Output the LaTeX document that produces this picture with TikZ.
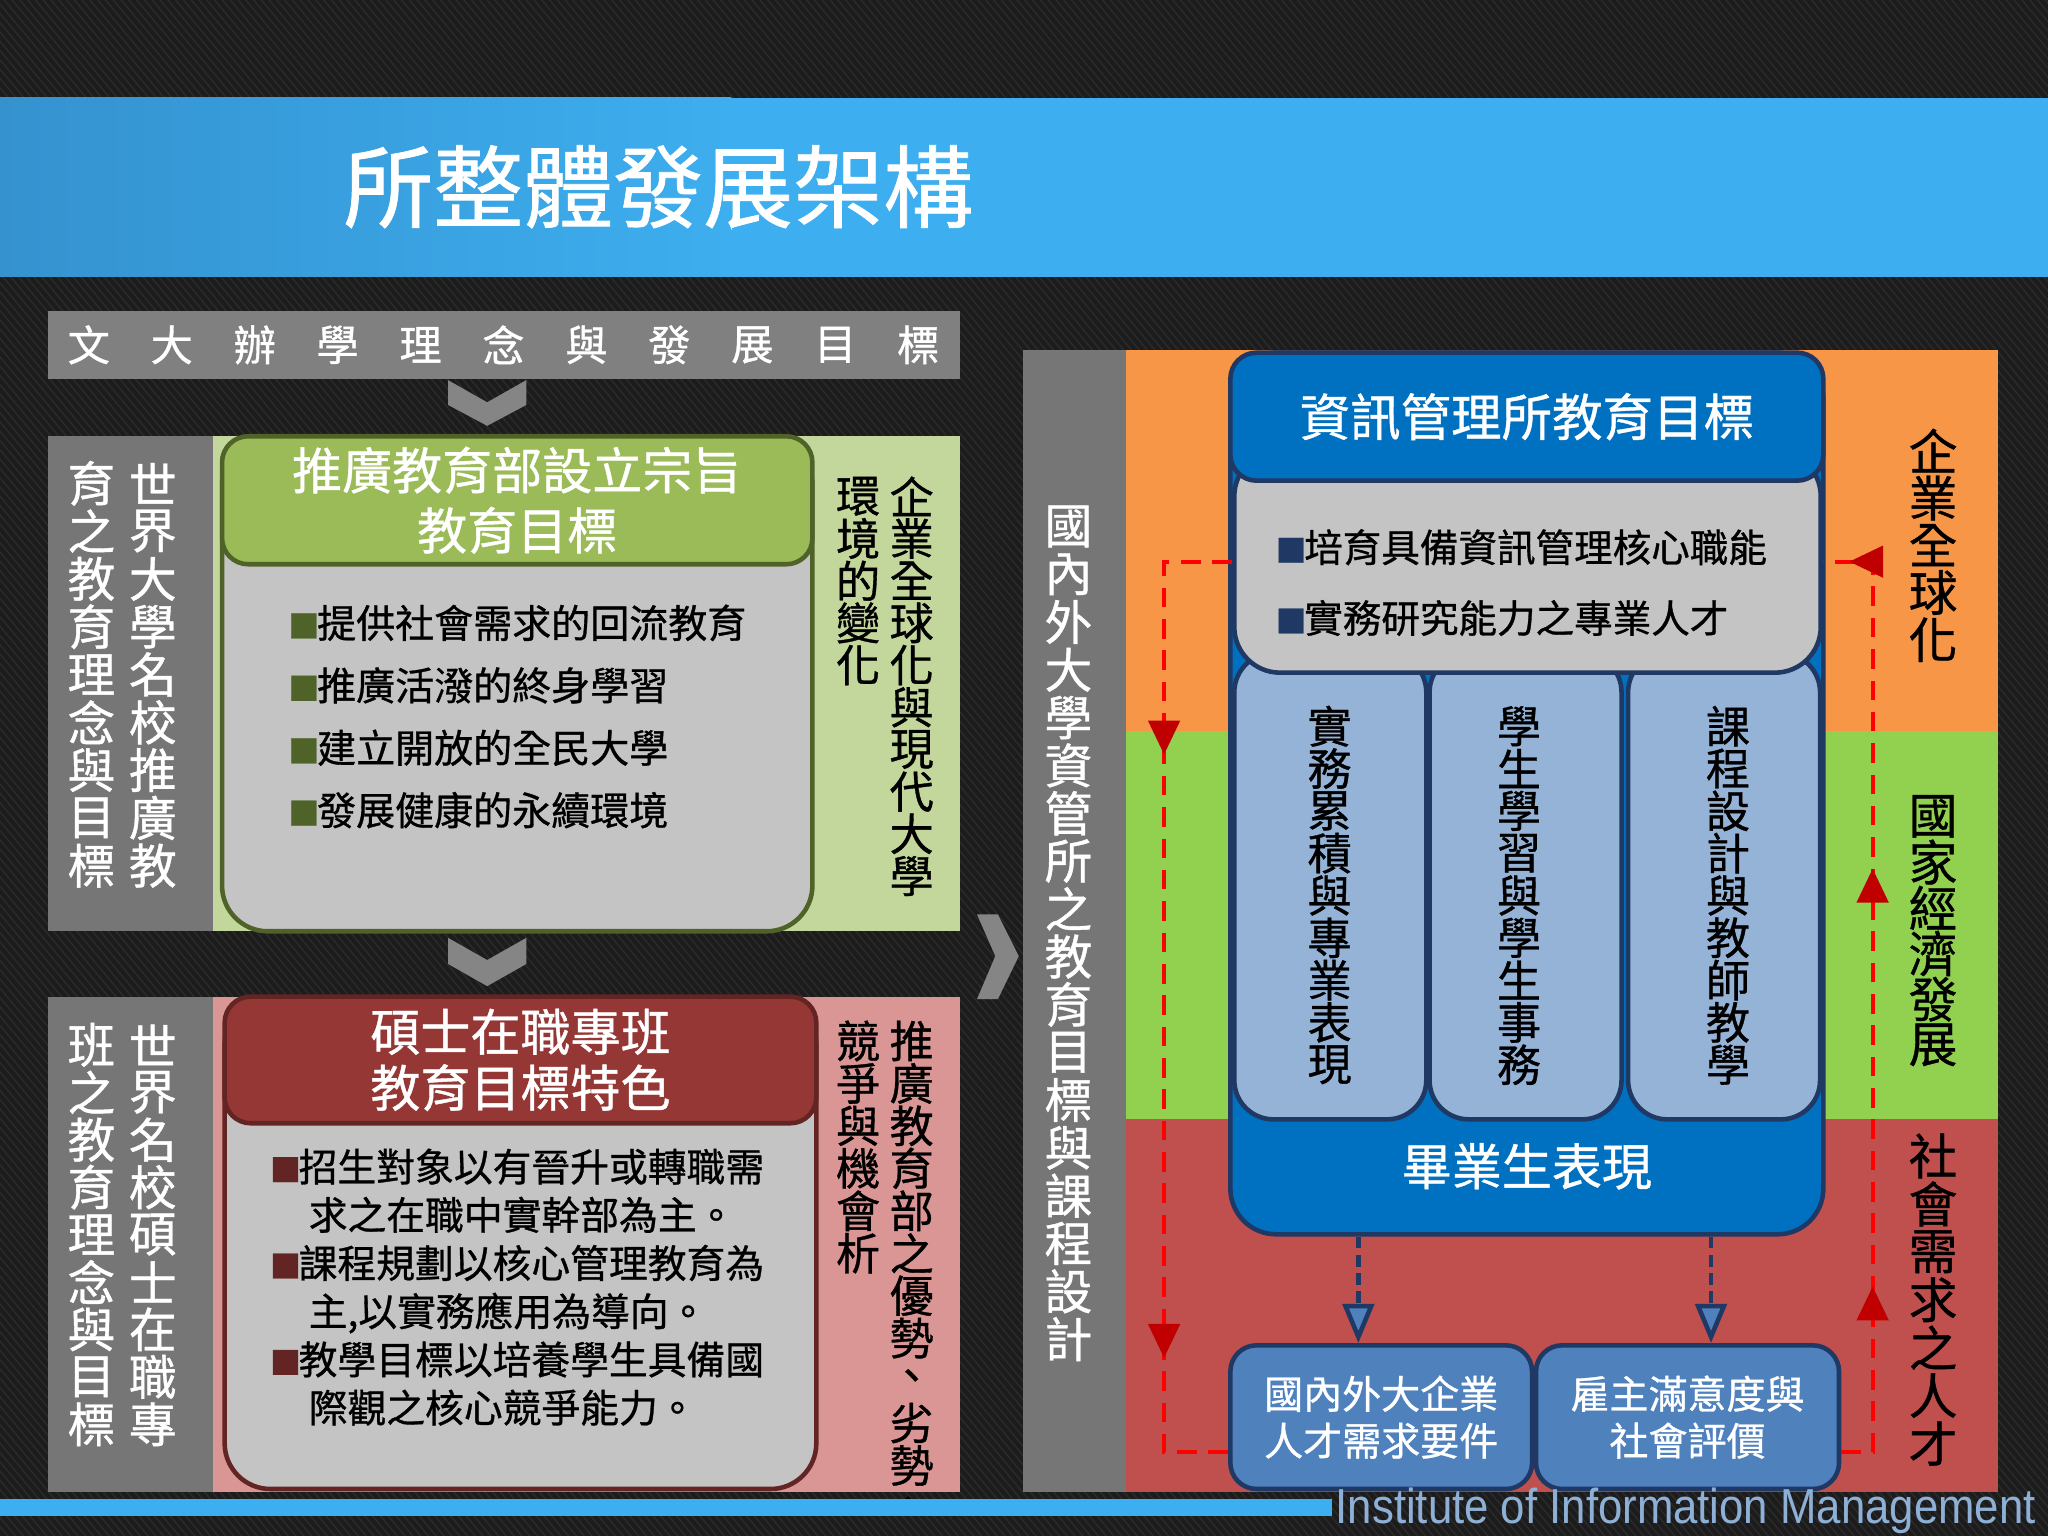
\documentclass[tikz,border=0pt]{standalone}
\usepackage{fontspec}
\setmainfont{Noto Sans CJK TC}[FakeBold=0.8]
\newfontfamily\footfont{Liberation Sans}
\usetikzlibrary{arrows.meta,decorations.markings,patterns.meta}

\definecolor{bgdark}{HTML}{1C1C1C}
\definecolor{hatch}{HTML}{2A2A2A}
\definecolor{bandblue}{HTML}{3DAEEF}
\definecolor{bandshade}{HTML}{3592CF}
\definecolor{bannergray}{HTML}{808080}
\definecolor{colgray}{HTML}{767676}
\definecolor{chevgray}{HTML}{858585}
\definecolor{lightgreen}{HTML}{C3D69B}
\definecolor{headgreen}{HTML}{9BBB59}
\definecolor{olivedark}{HTML}{4F6228}
\definecolor{bodygray}{HTML}{C4C4C4}
\definecolor{pinkpanel}{HTML}{D99694}
\definecolor{headred}{HTML}{953735}
\definecolor{reddark}{HTML}{632523}
\definecolor{bandorange}{HTML}{F79646}
\definecolor{bandgreen}{HTML}{92D050}
\definecolor{bandred}{HTML}{C0504D}
\definecolor{goalblue}{HTML}{0070C0}
\definecolor{navy}{HTML}{1F3864}
\definecolor{colblue}{HTML}{95B3D7}
\definecolor{boxblue}{HTML}{4F81BD}
\definecolor{loopred}{HTML}{FF0000}
\definecolor{tipred}{HTML}{C00000}
\definecolor{footblue}{HTML}{8EB0D6}

\newcommand\sqmark[1]{{\color{#1}\scalebox{0.8}{■}}\hspace{-0.06em}}

\tikzset{
  vwhite/.style={inner sep=0pt, text=white, font=\fontsize{10.4}{10}\selectfont},
  vblack/.style={inner sep=0pt, text=black, font=\fontsize{9.6}{9}\selectfont},
  vbig/.style={inner sep=0pt, text=black, font=\fontsize{10.6}{10}\selectfont},
  headbox/.style={rounded corners=2mm, line width=0.35mm, align=center, text=white,
    inner sep=0pt, font=\fontsize{10.9}{13.1}\selectfont},
  bodybox/.style={rounded corners=3.5mm, line width=0.35mm, fill=bodygray, inner sep=0pt},
  bullets/.style={align=left, inner sep=0pt, anchor=west, font=\fontsize{8.5}{13.6}\selectfont},
  colbox/.style={rounded corners=3mm, line width=0.35mm, fill=colblue, draw=navy,
    inner sep=0pt, minimum width=14.7mm, minimum height=35.7mm},
  needbox/.style={rounded corners=2mm, line width=0.35mm, fill=boxblue, draw=navy, text=white,
    align=center, inner sep=0pt, minimum height=11mm, font=\fontsize{8.5}{10.2}\selectfont},
  redtip/.tip={Triangle[width=2.4mm,length=2.6mm,color=tipred]},
  redloop/.style={draw=loopred, line width=0.3mm, dash pattern=on 1.5mm off 0.9mm},
  bluearrow/.style={draw=navy, line width=0.35mm, dash pattern=on 0.9mm off 0.5mm,
    -{Triangle[width=2.4mm,length=3mm,fill=boxblue]}}
}

\begin{document}
\begin{tikzpicture}[x=0.1mm,y=-0.1mm]
   % background and title band
   \fill[bgdark] (0,0) rectangle (1568,1176);
   \fill[pattern={Lines[angle=-50,distance=1.3pt,line width=0.35pt]}, pattern color=hatch]
        (0,0) rectangle (1568,1176);
   \fill[bandblue] (0,75) rectangle (1568,212);
   \shade[left color=bandshade, right color=bandblue] (0,75) rectangle (560,212);
   \node[text=white, font=\fontsize{19.6}{20}\selectfont] (title) at (504,143) {所整體發展架構};

   \node[fill=bannergray, minimum width=69.8mm, minimum height=5.2mm] (mission) at (386,264) {};
   \foreach \ch [count=\i from 0] in {文,大,辦,學,理,念,與,發,展,目,標}
   \node[text=white, inner sep=0pt, font=\fontsize{9.2}{9}\selectfont] (ms\i) at (68+63.5*\i,264) {\ch};

   \fill[chevgray] (343,291) -- (373,308) -- (403,291) -- (403,310) -- (373,326) -- (343,310) -- cycle;
   \fill[chevgray] (343,718) -- (373,735) -- (403,718) -- (403,738) -- (373,755) -- (343,738) -- cycle;
   \fill[chevgray] (748,700) -- (764,700) -- (780,732) -- (764,765) -- (748,765) -- (762,732) -- cycle;

   % extension education
   \fill[colgray] (37,334) rectangle (163,713);
   \fill[lightgreen] (163,334) rectangle (735,713);
   \node[bodybox, draw=olivedark, minimum width=45.2mm, minimum height=37.7mm] (pbody) at (396,524.5) {};
   \node[headbox, fill=headgreen, draw=olivedark, minimum width=45.2mm, minimum height=9.8mm]
        (phead) at (396,383) {推廣教育部設立宗旨\\教育目標};
   \node[bullets] (plist) at (220,548.5)
        {\sqmark{olivedark}提供社會需求的回流教育\\
         \sqmark{olivedark}推廣活潑的終身學習\\
         \sqmark{olivedark}建立開放的全民大學\\
         \sqmark{olivedark}發展健康的永續環境};
   \foreach \ch [count=\i from 0] in {世,界,大,學,名,校,推,廣,教}
   \node[vwhite] (ga\i) at (117,370+36.6*\i) {\ch};
   \foreach \ch [count=\i from 0] in {育,之,教,育,理,念,與,目,標}
   \node[vwhite] (gb\i) at (70,370+36.6*\i) {\ch};
   \foreach \ch [count=\i from 0] in {企,業,全,球,化,與,現,代,大,學}
   \node[vblack] (gc\i) at (698,380+32.3*\i) {\ch};
   \foreach \ch [count=\i from 0] in {環,境,的,變,化}
   \node[vblack] (gd\i) at (657,380+32.3*\i) {\ch};

   % in-service master program
   \fill[colgray] (37,763) rectangle (163,1142);
   \fill[pinkpanel] (163,763) rectangle (735,1142);
   \node[bodybox, draw=reddark, minimum width=45.3mm, minimum height=37.5mm] (mbody) at (398.5,952.5) {};
   \node[headbox, fill=headred, draw=reddark, minimum width=45.3mm, minimum height=9.7mm,
        font=\fontsize{10.9}{12.2}\selectfont] (mhead) at (398.5,811.5) {碩士在職專班\\教育目標特色};
   \node[bullets, font=\fontsize{8.45}{10.5}\selectfont] (mlist) at (206,985.5)
        {\sqmark{reddark}招生對象以有晉升或轉職需\\
         \phantom{■}求之在職中實幹部為主。\\
         \sqmark{reddark}課程規劃以核心管理教育為\\
         \phantom{■}主,以實務應用為導向。\\
         \sqmark{reddark}教學目標以培養學生具備國\\
         \phantom{■}際觀之核心競爭能力。};
   \foreach \ch [count=\i from 0] in {世,界,名,校,碩,士,在,職,專}
   \node[vwhite] (ma\i) at (117,800+36.3*\i) {\ch};
   \foreach \ch [count=\i from 0] in {班,之,教,育,理,念,與,目,標}
   \node[vwhite] (mb\i) at (70,800+36.3*\i) {\ch};
   \foreach \ch [count=\i from 0] in {推,廣,教,育,部,之,優,勢,、,劣,勢,、}
   \node[vblack] (mc\i) at (698,797+32.5*\i) {\ch};
   \foreach \ch [count=\i from 0] in {競,爭,與,機,會,析}
   \node[vblack] (md\i) at (657,797+32.5*\i) {\ch};

   % institute framework
   \fill[colgray] (783,268) rectangle (862,1142);
   \fill[bandorange] (862,268) rectangle (1530,560);
   \fill[bandgreen] (862,560) rectangle (1530,857);
   \fill[bandred] (862,857) rectangle (1530,1142);
   \foreach \ch [count=\i from 0] in {國,內,外,大,學,資,管,所,之,教,育,目,標,與,課,程,設,計}
   \node[vwhite] (ia\i) at (818,403+36.6*\i) {\ch};

   \node[draw=navy, fill=goalblue, rounded corners=3.5mm, line width=0.35mm,
        minimum width=45.4mm, minimum height=67.5mm] (goalframe) at (1169,607.5) {};
   \node[colbox] (col1) at (1018.5,678.5) {};
   \node[colbox] (col2) at (1168,678.5) {};
   \node[colbox] (col3) at (1320,678.5) {};
   \node[bodybox, draw=navy, minimum width=44.9mm, minimum height=17mm] (goalbody) at (1169.5,430) {};
   \node[headbox, fill=goalblue, draw=navy, minimum width=45.4mm, minimum height=9.8mm,
        font=\fontsize{11}{13}\selectfont] (goalhead) at (1169,319) {資訊管理所教育目標};
   \node[bullets, font=\fontsize{8.4}{15.4}\selectfont] (goallist) at (976,446)
        {\sqmark{navy}培育具備資訊管理核心職能\\
         \sqmark{navy}實務研究能力之專業人才};
   \foreach \ch [count=\i from 0] in {實,務,累,積,與,專,業,表,現}
   \node[vblack] (ca\i) at (1018,556+32.4*\i) {\ch};
   \foreach \ch [count=\i from 0] in {學,生,學,習,與,學,生,事,務}
   \node[vblack] (cb\i) at (1163,556+32.4*\i) {\ch};
   \foreach \ch [count=\i from 0] in {課,程,設,計,與,教,師,教,學}
   \node[vblack] (cc\i) at (1323,556+32.4*\i) {\ch};
   \node[text=white, font=\fontsize{10.9}{11}\selectfont] (grad) at (1169,893) {畢業生表現};

   \node[needbox, minimum width=23.1mm] (need) at (1057.5,1085) {國內外大企業\\人才需求要件};
   \node[needbox, minimum width=23.2mm] (eval) at (1292,1085) {雇主滿意度與\\社會評價};

   \draw[bluearrow] ([xshift=-1.75mm]need.north |- goalframe.south) -- ([xshift=-1.75mm]need.north);
   \draw[bluearrow] ([xshift=1.8mm]eval.north |- goalframe.south) -- ([xshift=1.8mm]eval.north);

   % feedback loop
   \draw[redloop, postaction={decorate}, decoration={markings,
        mark=at position 0.255 with {\arrow{redtip}},
        mark=at position 0.845 with {\arrow{redtip}}}]
        (goalbody.west) -- ++(-52,0) |- ([yshift=-2.7mm]need.west);
   \draw[redloop, postaction={decorate}, decoration={markings,
        mark=at position 0.203 with {\arrow{redtip}},
        mark=at position 0.633 with {\arrow{redtip}},
        mark=at position 0.973 with {\arrow{redtip}}}]
        ([yshift=-2.7mm]eval.east) -- ++(24,0) |- (goalbody.east);

   \foreach \ch [count=\i from 0] in {企,業,全,球,化}
   \node[vbig] (ra\i) at (1480,345+36.2*\i) {\ch};
   \foreach \ch [count=\i from 0] in {國,家,經,濟,發,展}
   \node[vbig] (rb\i) at (1480,625+35*\i) {\ch};
   \foreach \ch [count=\i from 0] in {社,會,需,求,之,人,才}
   \node[vbig] (rc\i) at (1480,885+36.7*\i) {\ch};

   % footer
   \fill[bandblue] (0,1148) rectangle (1020,1161);
   \node[anchor=west, inner sep=0pt, text=footblue, font=\footfont\fontsize{10.7}{11}\selectfont]
        (foot) at (1022,1157) {\scalebox{0.89}[1]{Institute of Information Management}};
\end{tikzpicture}
\end{document}
